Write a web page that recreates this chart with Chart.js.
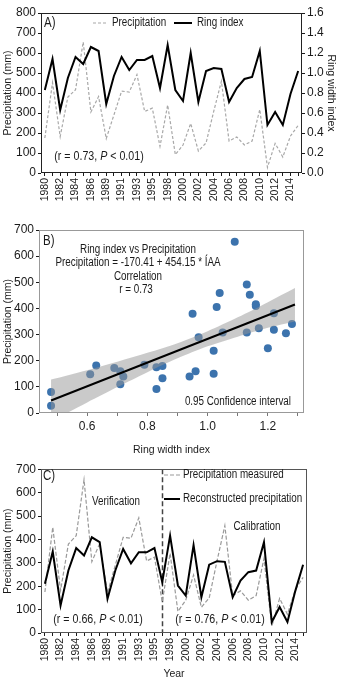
<!DOCTYPE html>
<html>
<head>
<meta charset="utf-8">
<script src="https://cdn.jsdelivr.net/npm/chart.js@4.4.1/dist/chart.umd.min.js"></script>
<style>
  html, body { margin: 0; padding: 0; background: #fff; }
  .panel { position: absolute; left: 0; width: 339px; }
  canvas { display: block; }
</style>
</head>
<body>
<div class="panel" style="top:0;height:205px"><canvas id="chartA" width="339" height="205"></canvas></div>
<div class="panel" style="top:205px;height:255px"><canvas id="chartB" width="339" height="255"></canvas></div>
<div class="panel" style="top:460px;height:220px"><canvas id="chartC" width="339" height="220"></canvas></div>
<script>
// years on the category axis (1988 and 1996 are not in the record)
const years = ['1980','1981','1982','1983','1984','1985','1986','1987','1989','1990',
  '1991','1992','1993','1994','1995','1997','1998','1999','2000','2001',
  '2002','2003','2004','2005','2006','2007','2008','2009','2010','2011',
  '2012','2013','2014','2015'];

const ringIndex = [0.83, 1.14, 0.63, 0.95, 1.16, 1.09, 1.26, 1.22, 0.69, 0.97,
  1.16, 1.03, 1.13, 1.13, 1.17, 0.85, 1.28, 0.83, 0.72, 1.20,
  0.71, 1.02, 1.05, 1.04, 0.71, 0.85, 0.94, 0.96, 1.22, 0.48,
  0.61, 0.48, 0.79, 1.02];

const precipitation = [175, 452, 182, 380, 416, 655, 305, 382, 172, 290,
  409, 405, 492, 308, 324, 133, 340, 92, 140, 248,
  110, 150, 308, 459, 160, 180, 140, 160, 318, 28,
  148, 80, 185, 238];

const reconstructed = [210, 348, 118, 267, 363, 331, 409, 388, 146, 267,
  359, 298, 345, 345, 363, 217, 416, 203, 160, 376,
  153, 292, 307, 304, 153, 224, 260, 267, 388, 47,
  111, 47, 179, 292];

// regression line and its 0.95 confidence band (panel B)
const fitX = [0.48, 1.29];
const fitY = [48, 415];
const bandX = [0.48, 0.6, 0.7, 0.8, 0.9, 1.0, 1.1, 1.2, 1.29];
const bandUpper = [128, 164, 196, 230, 267, 313, 366, 424, 478];
const bandLower = [-32, 40, 99, 156, 209, 255, 292, 326, 350];

const splitYear = '1997';
const ringTicksB = [0.5, 0.6, 0.7, 0.8, 0.9, 1.0, 1.1, 1.2, 1.3];

const SANS = "'Liberation Sans', Arial, sans-serif";
const INK = '#1a1a1a';
const NARROW_X = 0.82; // squeeze Liberation Sans to look like Arial Narrow

Chart.defaults.font.family = SANS;
Chart.defaults.color = INK;
Chart.defaults.animation = false;

function runs(ctx, parts, x, y, align) {
  let total = 0;
  parts.forEach(p => { ctx.font = p.font; p.w = ctx.measureText(p.t).width * NARROW_X; total += p.w; });
  let cx = align === 'center' ? x - total / 2 : (align === 'right' ? x - total : x);
  parts.forEach(p => {
    ctx.save();
    ctx.font = p.font;
    ctx.textAlign = 'left';
    ctx.textBaseline = 'middle';
    ctx.fillStyle = INK;
    ctx.translate(cx, y);
    ctx.scale(NARROW_X, 1);
    ctx.fillText(p.t, 0, 0);
    ctx.restore();
    cx += p.w;
  });
}

function stats(ctx, r, x, y) {
  const f = '13px ' + SANS, fi = 'italic 13px ' + SANS;
  runs(ctx, [{t: '(r = ' + r + ', ', font: f}, {t: 'P', font: fi}, {t: ' < 0.01)', font: f}], x, y, 'center');
}

function legendLine(ctx, x1, x2, y, color, width, dash) {
  ctx.save();
  ctx.strokeStyle = color;
  ctx.lineWidth = width;
  ctx.setLineDash(dash);
  ctx.beginPath();
  ctx.moveTo(x1, y);
  ctx.lineTo(x2, y);
  ctx.stroke();
  ctx.restore();
}

function boxPlugin(color) {
  return {
    id: 'box',
    afterDraw(chart) {
      const a = chart.chartArea, ctx = chart.ctx;
      ctx.save();
      ctx.strokeStyle = color;
      ctx.lineWidth = 1;
      ctx.strokeRect(Math.round(a.left) + 0.5, Math.round(a.top) + 0.5,
        Math.round(a.right - a.left) - 1, Math.round(a.bottom - a.top) - 1);
      ctx.restore();
    }
  };
}

function tickGrid(color) {
  return { display: true, drawOnChartArea: false, tickLength: 3, color: color };
}

const yearAxis = (h, title) => ({
  type: 'category',
  offset: true,
  grid: tickGrid(INK),
  border: { display: false },
  ticks: {
    autoSkip: false, minRotation: 90, maxRotation: 90, padding: 2,
    font: { family: SANS, size: 10.5 },
    callback: (v, i) => (i % 2 === 0 ? years[i] : '')
  },
  title: title ? { display: true, text: title, font: { family: SANS, size: 10.5 }, padding: { top: 0, bottom: 0 } } : { display: false },
  afterFit: s => { s.height = h; }
});

const precipAxis = (w, max) => ({
  position: 'left',
  min: 0, max: max,
  grid: tickGrid(INK),
  border: { display: false },
  ticks: { stepSize: 100, padding: 2, font: { family: SANS, size: 12 } },
  title: { display: true, text: 'Precipitation (mm)', font: { family: SANS, size: 10.5 }, padding: { top: 2, bottom: 0 } },
  afterFit: s => { s.width = w; }
});

// ---------- A) precipitation and ring index ----------
new Chart(document.getElementById('chartA'), {
  type: 'line',
  data: {
    labels: years,
    datasets: [
      {
        label: 'Ring index', data: ringIndex, yAxisID: 'y1',
        borderColor: '#000', borderWidth: 2, pointRadius: 0, tension: 0, order: 0
      },
      {
        label: 'Precipitation', data: precipitation, yAxisID: 'y',
        borderColor: '#a8a8a8', borderWidth: 1.2, borderDash: [3, 2], pointRadius: 0, tension: 0, order: 1
      }
    ]
  },
  options: {
    responsive: false,
    layout: { padding: { top: 13, left: 0, right: 0, bottom: 0 } },
    plugins: { legend: { display: false }, tooltip: { enabled: false } },
    scales: {
      x: yearAxis(32, null),
      y: precipAxis(41, 800),
      y1: {
        position: 'right',
        min: 0, max: 1.6,
        grid: tickGrid(INK),
        border: { display: false },
        ticks: { stepSize: 0.2, padding: 2, font: { family: SANS, size: 12 }, callback: v => v.toFixed(1) },
        title: { display: true, text: 'Ring width index', font: { family: SANS, size: 10.5 }, padding: { top: 2, bottom: 0 } },
        afterFit: s => { s.width = 37; }
      }
    }
  },
  plugins: [boxPlugin('#222'), {
    id: 'notesA',
    afterDraw(chart) {
      const ctx = chart.ctx;
      const f11 = '12px ' + SANS;
      runs(ctx, [{t: 'A)', font: '14px ' + SANS}], 44, 23, 'left');
      legendLine(ctx, 93, 108, 23, '#a8a8a8', 1.2, [3, 2]);
      runs(ctx, [{t: 'Precipitation', font: f11}], 112, 23, 'left');
      legendLine(ctx, 174, 192, 23, '#000', 2, []);
      runs(ctx, [{t: 'Ring index', font: f11}], 197, 23, 'left');
      stats(ctx, '0.73', 99, 156);
    }
  }]
});

// ---------- B) ring index vs precipitation ----------
new Chart(document.getElementById('chartB'), {
  type: 'scatter',
  data: {
    datasets: [
      {
        type: 'line', label: 'fit',
        data: fitX.map((x, i) => ({x: x, y: fitY[i]})),
        borderColor: '#000', borderWidth: 2, pointRadius: 0, order: 0
      },
      {
        type: 'line', label: 'upper',
        data: bandX.map((x, i) => ({x: x, y: bandUpper[i]})),
        borderColor: 'transparent', borderWidth: 0, pointRadius: 0, tension: 0.3,
        fill: '+1', backgroundColor: 'rgba(150,150,150,0.5)', order: 1
      },
      {
        type: 'line', label: 'lower',
        data: bandX.map((x, i) => ({x: x, y: bandLower[i]})),
        borderColor: 'transparent', borderWidth: 0, pointRadius: 0, tension: 0.3,
        fill: false, order: 1
      },
      {
        label: 'years',
        data: ringIndex.map((r, i) => ({x: r, y: precipitation[i]})),
        backgroundColor: '#3c73ad', borderWidth: 0, pointRadius: 4, order: 2
      }
    ]
  },
  options: {
    responsive: false,
    layout: { padding: { top: 25, left: 0, right: 35, bottom: 0 } },
    plugins: { legend: { display: false }, tooltip: { enabled: false } },
    scales: {
      x: {
        type: 'linear', min: 0.44, max: 1.32,
        grid: tickGrid('#777'),
        border: { display: false },
        afterBuildTicks: s => { s.ticks = ringTicksB.map(v => ({value: v})); },
        ticks: {
          padding: 3, font: { family: SANS, size: 12 },
          callback: v => (Math.round(v * 10) % 2 === 0 ? v.toFixed(1) : '')
        },
        title: { display: true, text: 'Ring width index', font: { family: SANS, size: 10.5 }, padding: { top: 0, bottom: 4 } },
        afterFit: s => { s.height = 47; }
      },
      y: precipAxis(39, 700)
    }
  },
  plugins: [boxPlugin('#999'), {
    id: 'notesB',
    afterDraw(chart) {
      const ctx = chart.ctx;
      const f11 = '12px ' + SANS;
      runs(ctx, [{t: 'B)', font: '14px ' + SANS}], 43, 36, 'left');
      runs(ctx, [{t: 'Ring index vs Precipitation', font: f11}], 138, 45, 'center');
      runs(ctx, [{t: 'Precipitation = -170.41 + 454.15 * ÍAA', font: f11}], 138, 58, 'center');
      runs(ctx, [{t: 'Correlation', font: f11}], 138, 72, 'center');
      runs(ctx, [{t: 'r = 0.73', font: f11}], 136, 85, 'center');
      runs(ctx, [{t: '0.95 Confidence interval', font: f11}], 291, 197, 'right');
    }
  }]
});

// ---------- C) measured vs reconstructed ----------
new Chart(document.getElementById('chartC'), {
  type: 'line',
  data: {
    labels: years,
    datasets: [
      {
        label: 'Reconstructed precipitation', data: reconstructed,
        borderColor: '#000', borderWidth: 2, pointRadius: 0, tension: 0, order: 0
      },
      {
        label: 'Precipitation measured', data: precipitation,
        borderColor: '#9a9a9a', borderWidth: 1.2, borderDash: [4, 2], pointRadius: 0, tension: 0, order: 1
      }
    ]
  },
  options: {
    responsive: false,
    layout: { padding: { top: 8, left: 0, right: 32, bottom: 0 } },
    plugins: { legend: { display: false }, tooltip: { enabled: false } },
    scales: {
      x: yearAxis(47, 'Year'),
      y: precipAxis(41, 700)
    }
  },
  plugins: [boxPlugin('#555'), {
    id: 'notesC',
    beforeDatasetsDraw(chart) {
      const ctx = chart.ctx, a = chart.chartArea;
      const x = Math.round(chart.scales.x.getPixelForValue(years.indexOf(splitYear))) + 0.5;
      ctx.save();
      ctx.strokeStyle = '#444';
      ctx.lineWidth = 1.5;
      ctx.setLineDash([5, 3]);
      ctx.beginPath();
      ctx.moveTo(x, a.top);
      ctx.lineTo(x, a.bottom);
      ctx.stroke();
      ctx.restore();
    },
    afterDraw(chart) {
      const ctx = chart.ctx;
      const f11 = '12px ' + SANS;
      runs(ctx, [{t: 'C)', font: '14px ' + SANS}], 43, 16, 'left');
      runs(ctx, [{t: 'Verification', font: f11}], 116, 42, 'center');
      legendLine(ctx, 164, 180, 15, '#9a9a9a', 1.2, [4, 2]);
      runs(ctx, [{t: 'Precipitation measured', font: f11}], 183, 15, 'left');
      legendLine(ctx, 164, 180, 39, '#000', 2, []);
      runs(ctx, [{t: 'Reconstructed precipitation', font: f11}], 183, 39, 'left');
      runs(ctx, [{t: 'Calibration', font: f11}], 257, 67, 'center');
      stats(ctx, '0.66', 98, 159);
      stats(ctx, '0.76', 220, 159);
    }
  }]
});
</script>
</body>
</html>
